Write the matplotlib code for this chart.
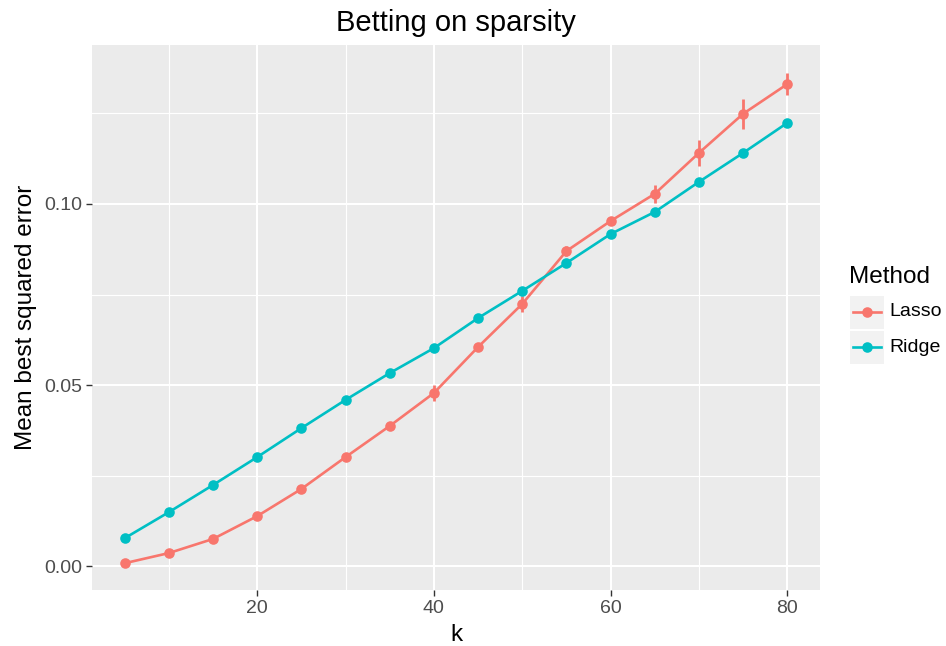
import matplotlib
matplotlib.use("Agg")
import matplotlib.pyplot as plt
from matplotlib.lines import Line2D
from matplotlib.patches import Rectangle

plt.rcParams['font.family'] = ['Liberation Sans', 'DejaVu Sans']

k = [5, 10, 15, 20, 25, 30, 35, 40, 45, 50, 55, 60, 65, 70, 75, 80]
lasso = [0.0008, 0.0036, 0.0075, 0.0138, 0.0213, 0.0301, 0.0387, 0.0478,
         0.0605, 0.0724, 0.0870, 0.0953, 0.1028, 0.1141, 0.1249, 0.1331]
lasso_err = [0.0003, 0.0004, 0.0005, 0.0006, 0.0007, 0.0008, 0.0010, 0.0023,
             0.0010, 0.0022, 0.0014, 0.0010, 0.0025, 0.0037, 0.0041, 0.0031]
ridge = [0.0077, 0.0149, 0.0224, 0.0301, 0.0381, 0.0459, 0.0533, 0.0602,
         0.0685, 0.0760, 0.0837, 0.0917, 0.0978, 0.1061, 0.1141, 0.1224]

col_lasso = '#F8766D'
col_ridge = '#00BFC4'

fig = plt.figure(figsize=(9.46, 6.46), dpi=100)
ax = fig.add_axes([92 / 946, 56 / 646, 728 / 946, 545 / 646])
ax.set_facecolor('#EBEBEB')

# ggplot-like grid
for x in [10, 30, 50, 70]:
    ax.axvline(x, color='white', lw=0.8, zorder=0)
for y in [0.025, 0.075, 0.125]:
    ax.axhline(y, color='white', lw=0.8, zorder=0)
for x in [20, 40, 60, 80]:
    ax.axvline(x, color='white', lw=1.5, zorder=0)
for y in [0.0, 0.05, 0.10]:
    ax.axhline(y, color='white', lw=1.5, zorder=0)

ax.plot(k, lasso, color=col_lasso, lw=1.9, zorder=2)
ax.plot(k, ridge, color=col_ridge, lw=1.9, zorder=2)
ax.vlines(k, [a - e for a, e in zip(lasso, lasso_err)],
          [a + e for a, e in zip(lasso, lasso_err)],
          color=col_lasso, lw=2.0, zorder=3)
ax.scatter(k, lasso, s=58, color=col_lasso, zorder=4, linewidths=0)
ax.scatter(k, ridge, s=58, color=col_ridge, zorder=4, linewidths=0)

ax.set_xlim(1.3, 83.7)
ax.set_ylim(-0.0066, 0.1439)
ax.set_xticks([20, 40, 60, 80])
ax.set_yticks([0.0, 0.05, 0.10])
ax.set_yticklabels(['0.00', '0.05', '0.10'])
ax.tick_params(colors='#333333', labelcolor='#4D4D4D', labelsize=14, length=4.5,
               width=1.0, pad=2.5)
for s in ax.spines.values():
    s.set_visible(False)

ax.set_xlabel('k', fontsize=17.5, labelpad=5)
ax.set_ylabel('Mean best squared error', fontsize=17.5, labelpad=5)
ax.set_title('Betting on sparsity', fontsize=21, pad=10)

# legend
fig.text(849 / 946, 1 - 277 / 646, 'Method', fontsize=17.5, va='center', ha='left')
for i, (name, c) in enumerate([('Lasso', col_lasso), ('Ridge', col_ridge)]):
    yc = 1 - (312 + 35 * i) / 646
    fig.add_artist(Rectangle((850 / 946, yc - 16.5 / 646), 34 / 946, 33 / 646,
                             transform=fig.transFigure, facecolor='#F2F2F2', edgecolor='none'))
    fig.add_artist(Line2D([853 / 946, 881 / 946], [yc, yc], transform=fig.transFigure,
                          color=c, lw=1.9))
    fig.add_artist(Line2D([867 / 946], [yc], transform=fig.transFigure, color=c,
                          marker='o', markersize=7.6, markeredgewidth=0))
    fig.text(889 / 946, yc, name, fontsize=14, va='center', ha='left')

fig.savefig('out.png', dpi=100)
